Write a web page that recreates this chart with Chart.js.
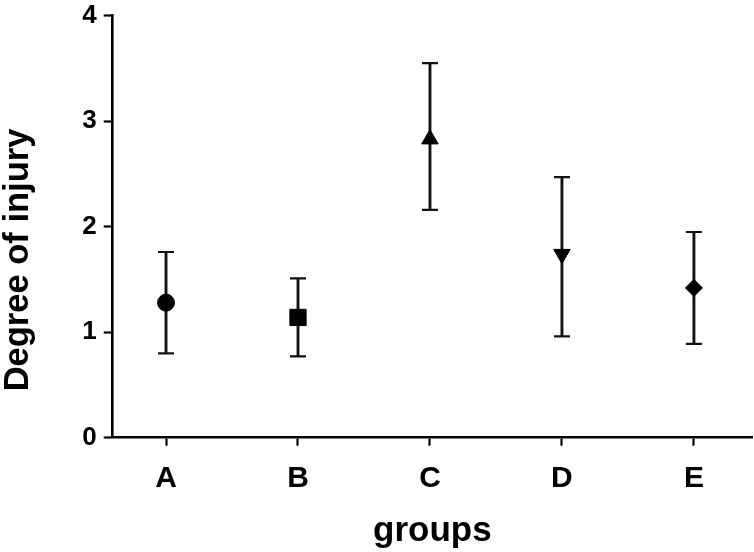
<!DOCTYPE html>
<html>
<head>
<meta charset="utf-8">
<script src="https://cdn.jsdelivr.net/npm/chart.js@4.4.1/dist/chart.umd.min.js"></script>
<style>
	html, body { margin: 0; padding: 0; background: #fff; overflow: hidden; }
	#wrap { width: 754px; height: 552px; position: relative; }
	#wrap canvas { display: block; }
</style>
</head>
<body>
<div id="wrap"><canvas id="chart"></canvas></div>
<script>
// groups on the x axis
const groups = ["A", "B", "C", "D", "E"];
// mean degree of injury and the ends of the error bars
const means = [1.28, 1.14, 2.83, 1.74, 1.42];
const upper = [1.76, 1.51, 3.55, 2.47, 1.95];
const lower = [0.80, 0.77, 2.16, 0.96, 0.89];
// marker per group
const markers = ["circle", "rect", "triangle", "triangle", "rectRot"];
const markerTurn = [0, 0, 0, 180, 0];
const markerSize = [8.5, 11.5, 9.5, 9.5, 8.5];
const yTicks = [0, 1, 2, 3, 4];

const FONT = '"Liberation Sans", Arial, Helvetica, sans-serif';

// y title drawn by hand so it can sit where the original has it
const yTitle = {
	id: 'yTitle',
	afterDraw: function (chart) {
		const ctx = chart.ctx;
		ctx.save();
		ctx.translate(28, 260);
		ctx.rotate(-Math.PI / 2);
		ctx.font = 'bold 34.5px ' + FONT;
		ctx.fillStyle = '#000';
		ctx.textAlign = 'center';
		ctx.textBaseline = 'alphabetic';
		ctx.fillText('Degree of injury', 0, 0);
		ctx.restore();
	}
};

new Chart(document.getElementById('chart'), {
	type: 'scatter',
	data: {
		datasets: [
			{
				label: 'mean',
				data: groups.map((g, i) => ({x: i + 1, y: means[i]})),
				pointStyle: markers,
				rotation: markerTurn,
				pointRadius: markerSize,
				backgroundColor: '#000',
				borderColor: '#000',
				borderWidth: 1,
				order: 0
			},
			{
				label: 'caps',
				data: groups.map((g, i) => ({x: i + 1, y: upper[i]}))
					.concat(groups.map((g, i) => ({x: i + 1, y: lower[i]}))),
				pointStyle: 'line',
				pointRadius: 8,
				borderColor: '#111',
				borderWidth: 2.2,
				order: 1
			},
			{
				type: 'bar',
				label: 'range',
				data: groups.map((g, i) => ({x: i + 1, y: [lower[i], upper[i]]})),
				barThickness: 2.2,
				grouped: false,
				backgroundColor: '#111',
				borderWidth: 0,
				order: 2
			}
		]
	},
	plugins: [yTitle],
	options: {
		responsive: true,
		maintainAspectRatio: false,
		animation: false,
		layout: { autoPadding: false, padding: { left: 0, right: 2, top: 15.7, bottom: 0 } },
		plugins: {
			legend: { display: false },
			tooltip: { enabled: false }
		},
		scales: {
			x: {
				type: 'linear',
				offset: false,
				min: 0.596,
				max: 5.44,
				afterBuildTicks: s => { s.ticks = groups.map((g, i) => ({value: i + 1})); },
				afterFit: s => { s.height = 114.3; s.paddingLeft = 0; s.paddingRight = 0; },
				ticks: {
					callback: v => groups[v - 1],
					color: '#000',
					padding: 15,
					maxRotation: 0,
					font: { family: FONT, size: 30, weight: 'bold' }
				},
				grid: { drawOnChartArea: false, offset: false, tickLength: 8, tickWidth: 2.2, tickColor: '#000' },
				border: { color: '#000', width: 2.6 },
				title: {
					display: true,
					text: 'groups',
					color: '#000',
					padding: { top: 0, bottom: 0 },
					font: { family: FONT, size: 35, weight: 'bold' }
				}
			},
			y: {
				min: 0,
				max: 4,
				afterBuildTicks: s => { s.ticks = yTicks.map(v => ({value: v})); },
				afterFit: s => { s.width = 112.7; s.paddingTop = 0; s.paddingBottom = 0; },
				ticks: {
					color: '#000',
					padding: 7,
					font: { family: FONT, size: 26, weight: 'bold' }
				},
				grid: { drawOnChartArea: false, tickLength: 9, tickWidth: 2.2, tickColor: '#000' },
				border: { color: '#000', width: 2.6 }
			}
		}
	}
});
</script>
</body>
</html>
